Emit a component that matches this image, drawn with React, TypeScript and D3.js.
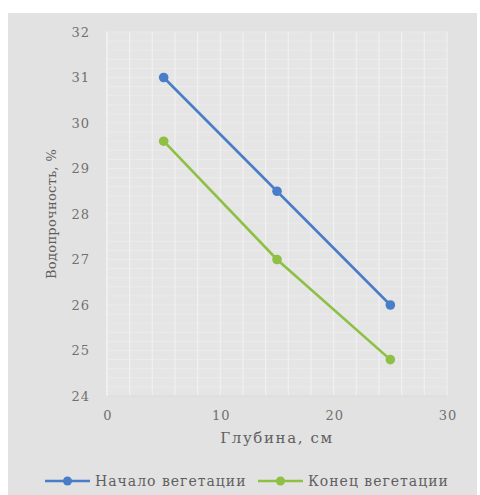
import React from "react";
import * as d3 from "d3";

// Depth (cm) and water stability (%) at start / end of vegetation
const depths = [5, 15, 25];
const startSeason = [31.0, 28.5, 26.0];
const endSeason = [29.6, 27.0, 24.8];
const seriesNames = ["Начало вегетации", "Конец вегетации"];
const seriesColors = ["#4a7dc8", "#8dc043"];
const xTicks = [0, 10, 20, 30];
const yTicks = [24, 25, 26, 27, 28, 29, 30, 31, 32];

const W = 480;
const H = 495;
const FONT = "'DejaVu Serif', 'Liberation Serif', serif";

export default function App() {
  const x = d3.scaleLinear().domain([0, 30]).range([107, 447]);
  const y = d3.scaleLinear().domain([24, 32]).range([396, 32]);

  const minorX = d3.range(0, 30.001, 2);
  const minorY = d3.range(24, 32.001, 0.2);

  const line = d3
    .line<number>()
    .x((_, i) => x(depths[i]))
    .y((d) => y(d));

  const series = [startSeason, endSeason];

  return (
    <svg
      width={W}
      height={H}
      style={{ position: "absolute", left: 0, top: 0 }}
    >
      <rect x={0} y={0} width={W} height={H} fill="#ffffff" />
      <rect x={8} y={13} width={469} height={H - 13} fill="#e2e2e2" />
      <rect
        x={x(0)}
        y={y(32)}
        width={x(30) - x(0)}
        height={y(24) - y(32)}
        fill="#e5e5e5"
      />
      {minorY.map((v, i) => (
        <line
          key={"hy" + i}
          x1={x(0)}
          x2={x(30)}
          y1={y(v)}
          y2={y(v)}
          stroke="#ececec"
          strokeWidth={0.8}
        />
      ))}
      {minorX.map((v, i) => (
        <line
          key={"vx" + i}
          x1={x(v)}
          x2={x(v)}
          y1={y(32)}
          y2={y(24)}
          stroke="#f0f0f0"
          strokeWidth={1.2}
        />
      ))}
      <line x1={x(0)} x2={x(30)} y1={y(24)} y2={y(24)} stroke="#d8d8d8" strokeWidth={1} />
      <line x1={x(0)} x2={x(0)} y1={y(32)} y2={y(24)} stroke="#f0f0f0" strokeWidth={1.5} />

      {yTicks.map((t) => (
        <text
          key={"yt" + t}
          x={90}
          y={y(t)}
          dy="0.35em"
          textAnchor="end"
          fontFamily={FONT}
          fontSize={13}
          letterSpacing={1}
          fill="#707070"
        >
          {t}
        </text>
      ))}
      {xTicks.map((t) => (
        <text
          key={"xt" + t}
          x={x(t) + 1}
          y={415}
          dy="0.35em"
          textAnchor="middle"
          fontFamily={FONT}
          fontSize={13}
          letterSpacing={1}
          fill="#707070"
        >
          {t}
        </text>
      ))}

      <text
        x={277}
        y={438}
        dy="0.35em"
        textAnchor="middle"
        fontFamily={FONT}
        fontSize={15}
        letterSpacing={1.6}
        fill="#606060"
      >
        Глубина, см
      </text>
      <text
        transform={`translate(51, 214) rotate(-90)`}
        dy="0.35em"
        textAnchor="middle"
        fontFamily={FONT}
        fontSize={13}
        letterSpacing={0.3}
        fill="#606060"
      >
        Водопрочность, %
      </text>

      {series.map((vals, si) => (
        <g key={"s" + si}>
          <path
            d={line(vals) || ""}
            fill="none"
            stroke={seriesColors[si]}
            strokeWidth={2.6}
          />
          {vals.map((v, i) => (
            <circle
              key={i}
              cx={x(depths[i])}
              cy={y(v)}
              r={4.8}
              fill={seriesColors[si]}
            />
          ))}
        </g>
      ))}

      {seriesNames.map((name, si) => {
        const lx = si === 0 ? 45 : 258;
        return (
          <g key={"lg" + si}>
            <line
              x1={lx}
              x2={lx + 45}
              y1={481}
              y2={481}
              stroke={seriesColors[si]}
              strokeWidth={2.6}
            />
            <circle cx={lx + 22.5} cy={481} r={4.5} fill={seriesColors[si]} />
            <text
              x={lx + 50}
              y={481}
              dy="0.35em"
              fontFamily={FONT}
              fontSize={14}
              letterSpacing={1}
              fill="#606060"
            >
              {name}
            </text>
          </g>
        );
      })}
    </svg>
  );
}
